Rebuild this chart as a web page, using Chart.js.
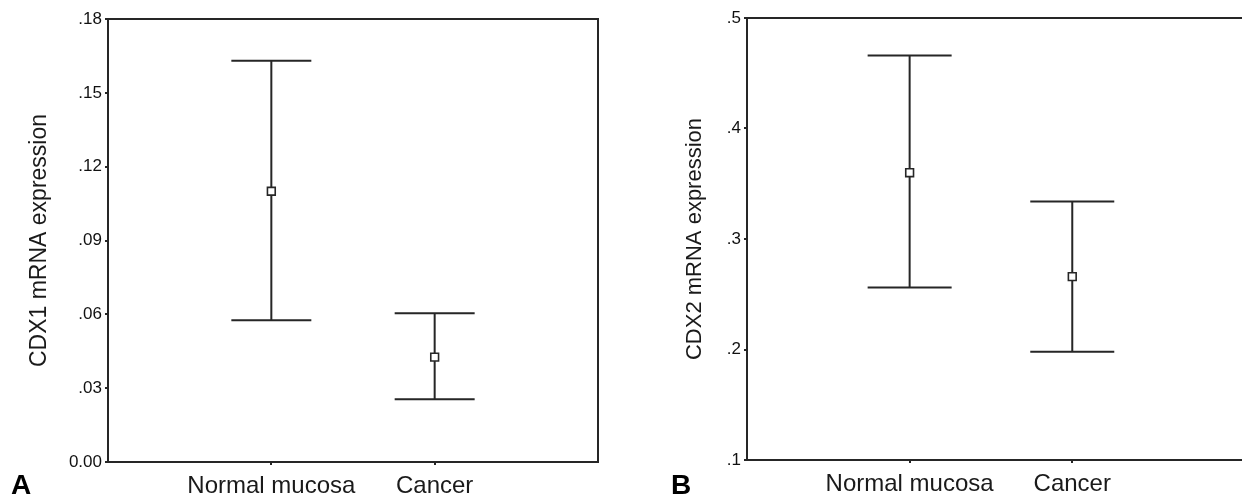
<!DOCTYPE html>
<html><head><meta charset="utf-8">
<script src="https://cdn.jsdelivr.net/npm/chart.js@4/dist/chart.umd.min.js"></script>
<style>
html,body{margin:0;padding:0;background:#fff;}
#wrap{position:relative;width:1242px;height:497px;overflow:hidden;background:#fff;}
canvas{position:absolute;top:0;}
.pl{position:absolute;font:bold 28px "Liberation Sans",Arial,sans-serif;color:#000;line-height:1;}
</style></head><body>
<div id="wrap">
<canvas id="a" width="621" height="497" style="left:0"></canvas>
<canvas id="b" width="621" height="497" style="left:621px"></canvas>
<div class="pl" style="left:11px;top:471px">A</div>
<div class="pl" style="left:671px;top:471px">B</div>
</div>
<script>
const categories = ['Normal mucosa', 'Cancer'];
const categoryPos = [1, 2];

const cdx1Mean  = [0.110, 0.0426];
const cdx1Upper = [0.163, 0.0604];
const cdx1Lower = [0.0576, 0.0255];
const cdx1TickValues = [0, 0.03, 0.06, 0.09, 0.12, 0.15, 0.18];
const cdx1TickLabels = ['0.00', '.03', '.06', '.09', '.12', '.15', '.18'];

const cdx2Mean  = [0.360, 0.266];
const cdx2Upper = [0.466, 0.334];
const cdx2Lower = [0.256, 0.198];
const cdx2TickValues = [0.1, 0.2, 0.3, 0.4, 0.5];
const cdx2TickLabels = ['.1', '.2', '.3', '.4', '.5'];

const FAMILY = '"Liberation Sans", Arial, sans-serif';
const INK = '#262626';

function makeChart(id, p) {
  const errPlugin = {
    id: 'err' + id,
    beforeDatasetsDraw(chart) {
      const ctx = chart.ctx, xs = chart.scales.x, ys = chart.scales.y;
      ctx.save();
      ctx.strokeStyle = INK; ctx.lineWidth = 2;
      for (let i = 0; i < categories.length; i++) {
        const x = xs.getPixelForValue(categoryPos[i]);
        const yU = ys.getPixelForValue(p.upper[i]);
        const yL = ys.getPixelForValue(p.lower[i]);
        ctx.beginPath();
        ctx.moveTo(x, yU); ctx.lineTo(x, yL);
        ctx.moveTo(x - p.cap, yU); ctx.lineTo(x + p.cap, yU);
        ctx.moveTo(x - p.cap, yL); ctx.lineTo(x + p.cap, yL);
        ctx.stroke();
      }
      ctx.restore();
    },
    afterDraw(chart) {
      const ctx = chart.ctx, a = chart.chartArea;
      ctx.save();
      ctx.strokeStyle = INK; ctx.lineWidth = 2;
      ctx.beginPath();
      if (p.fullBox) {
        ctx.rect(a.left, a.top, a.right - a.left, a.bottom - a.top);
      } else {
        ctx.moveTo(chart.width, a.top); ctx.lineTo(a.left, a.top);
        ctx.lineTo(a.left, a.bottom); ctx.lineTo(chart.width, a.bottom);
      }
      ctx.stroke();
      ctx.restore();
    }
  };
  return new Chart(document.getElementById(id), {
    type: 'scatter',
    data: { datasets: [{
      data: categories.map((c, i) => ({ x: categoryPos[i], y: p.mean[i] })),
      pointStyle: 'rect', pointRadius: 5.5, pointHoverRadius: 5.5,
      backgroundColor: '#fff', borderColor: INK, borderWidth: 1.6
    }]},
    options: {
      responsive: false, animation: false, events: [],
      layout: { padding: { top: p.padTop, right: p.padRight, left: 0, bottom: 0 } },
      plugins: { legend: { display: false }, tooltip: { enabled: false } },
      scales: {
        x: {
          type: 'linear', min: 0, max: p.xMax,
          afterBuildTicks: s => { s.ticks = categoryPos.map(v => ({ value: v })); },
          afterFit: s => { s.height = p.xHeight; },
          ticks: { callback: v => categories[categoryPos.indexOf(v)], font: { family: FAMILY, size: 24 },
                   color: '#1a1a1a', padding: 7, maxRotation: 0, autoSkip: false },
          grid: { drawOnChartArea: false, drawTicks: true, tickLength: 3, color: INK, lineWidth: 2 },
          border: { display: false }
        },
        y: {
          min: p.yMin, max: p.yMax,
          afterBuildTicks: s => { s.ticks = p.tickValues.map(v => ({ value: v })); },
          afterFit: s => { s.width = p.yWidth; },
          ticks: { callback: (v, i) => p.tickLabels[p.tickValues.indexOf(v)], font: { family: FAMILY, size: 17 },
                   color: '#111', padding: 3, autoSkip: false },
          grid: { drawOnChartArea: false, drawTicks: true, tickLength: 3, color: INK, lineWidth: 2 },
          border: { display: false },
          title: { display: true, text: p.title, color: '#1a1a1a', font: { family: FAMILY, size: p.titleSize },
                   padding: { top: p.titlePad, bottom: 0 } }
        }
      }
    },
    plugins: [errPlugin]
  });
}

makeChart('a', {
  mean: cdx1Mean, upper: cdx1Upper, lower: cdx1Lower,
  tickValues: cdx1TickValues, tickLabels: cdx1TickLabels,
  yMin: 0, yMax: 0.18, xMax: 3, title: 'CDX1 mRNA expression', titleSize: 23, titlePad: 26,
  padTop: 19, padRight: 23, xHeight: 35, yWidth: 108, cap: 40, fullBox: true
});
makeChart('b', {
  mean: cdx2Mean, upper: cdx2Upper, lower: cdx2Lower,
  tickValues: cdx2TickValues, tickLabels: cdx2TickLabels,
  yMin: 0.1, yMax: 0.5, xMax: 3, title: 'CDX2 mRNA expression', titleSize: 22, titlePad: 61,
  padTop: 18, padRight: 0, xHeight: 37, yWidth: 126, cap: 42, fullBox: false
});
</script>
</body></html>
